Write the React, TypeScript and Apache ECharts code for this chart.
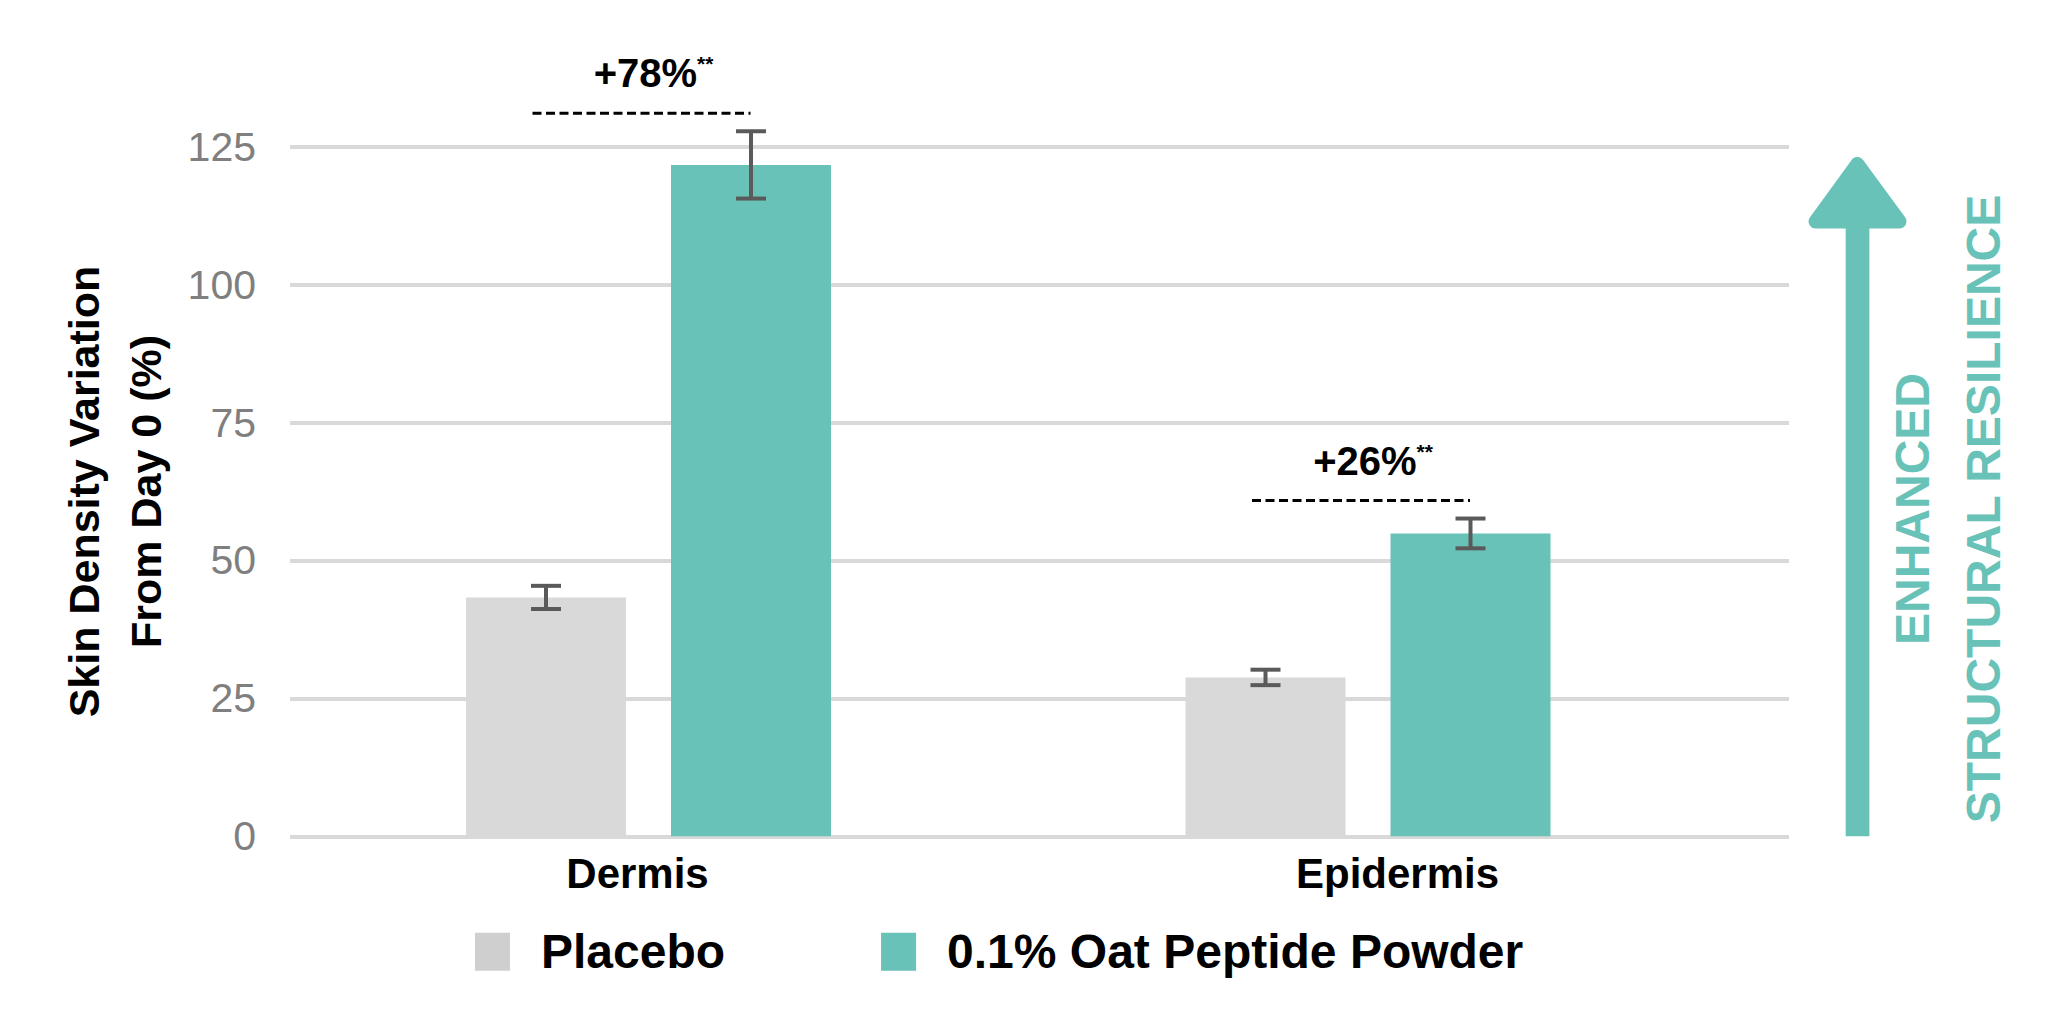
import React, { useEffect, useRef } from "react";
import * as echarts from "echarts";

const categories = ["Dermis", "Epidermis"];
const placeboValues = [43.3, 28.8];
const placeboErrors = [2.1, 1.4];
const oatValues = [121.7, 54.9];
const oatErrors = [6.1, 2.7];
const increaseLabels = ["+78%", "+26%"];
const significanceMarks = ["**", "**"];
const seriesNames = ["Placebo", "0.1% Oat Peptide Powder"];
const yMin = 0;
const yMax = 125;
const yInterval = 25;

const FONT = "Liberation Sans, Arial, Helvetica, sans-serif";
const TEAL = "#69C2B8";
const GRAY_BAR = "#D9D9D9";
const ERR_COLOR = "#5A5A5A";
const BAR_W = 160;
const BAR_GAP = 45;
const HALF = (BAR_W + BAR_GAP) / 2;

const GRID_TOP = 146.7;
const GRID_BOTTOM = 1024 - 836.3;

function errorRenderer(offset: number) {
  return (params: any, api: any) => {
    const c = api.value(0);
    const v = api.value(1);
    const e = api.value(2);
    const x = api.coord([c, v])[0] + offset;
    const yTop = api.coord([c, v + e])[1];
    const yBot = api.coord([c, v - e])[1];
    const style = { stroke: ERR_COLOR, lineWidth: 4 };
    return {
      type: "group",
      children: [
        { type: "line", shape: { x1: x, y1: yTop, x2: x, y2: yBot }, style },
        { type: "line", shape: { x1: x - 15, y1: yTop, x2: x + 15, y2: yTop }, style },
        { type: "line", shape: { x1: x - 15, y1: yBot, x2: x + 15, y2: yBot }, style },
      ],
    };
  };
}

export default function App() {
  const ref = useRef<HTMLDivElement>(null);

  useEffect(() => {
    if (!ref.current) return;
    const chart = echarts.init(ref.current, undefined, { renderer: "svg" });

    const placeboErr = categories.map((_, i) => [i, placeboValues[i], placeboErrors[i]]);
    const oatErr = categories.map((_, i) => [i, oatValues[i], oatErrors[i]]);
    const annot = categories.map((_, i) => [i, oatValues[i] + oatErrors[i]]);

    const option: any = {
      animation: false,
      backgroundColor: "#ffffff",
      textStyle: { fontFamily: FONT },
      grid: [
        { left: 290, right: 2048 - 1789, top: GRID_TOP, bottom: GRID_BOTTOM },
        { left: 288.75, width: 1439, top: GRID_TOP, bottom: GRID_BOTTOM },
        { left: 257.5, width: 1520, top: GRID_TOP, bottom: GRID_BOTTOM },
      ],
      xAxis: [
        {
          gridIndex: 0,
          type: "category",
          data: categories,
          axisLine: { show: false },
          axisTick: { show: false },
          axisLabel: { show: false },
        },
        {
          gridIndex: 1,
          type: "category",
          data: categories,
          axisLine: { show: false },
          axisTick: { show: false },
          axisLabel: { show: false },
        },
        {
          gridIndex: 2,
          type: "category",
          data: categories,
          axisLine: { show: false },
          axisTick: { show: false },
          axisLabel: {
            show: true,
            margin: 16,
            fontSize: 42,
            fontWeight: "bold",
            color: "#000000",
            fontFamily: FONT,
          },
        },
      ],
      yAxis: [
        {
          gridIndex: 0,
          type: "value",
          min: yMin,
          max: yMax,
          interval: yInterval,
          axisLine: { show: false },
          axisTick: { show: false },
          splitLine: { show: true, lineStyle: { color: "#D9D9D9", width: 3.8 } },
          axisLabel: {
            margin: 34,
            fontSize: 41,
            color: "#7F7F7F",
            fontFamily: FONT,
            padding: [0, 0, 16, 0],
          },
          name: "Skin Density Variation\nFrom Day 0 (%)",
          nameLocation: "middle",
          nameRotate: 90,
          nameGap: 108,
          nameTextStyle: {
            fontSize: 43,
            fontWeight: "bold",
            color: "#000000",
            lineHeight: 62,
            fontFamily: FONT,
          },
        },
        {
          gridIndex: 1,
          type: "value",
          min: yMin,
          max: yMax,
          interval: yInterval,
          show: false,
          splitLine: { show: false },
        },
        {
          gridIndex: 2,
          type: "value",
          min: yMin,
          max: yMax,
          interval: yInterval,
          show: false,
          splitLine: { show: false },
        },
      ],
      legend: {
        left: 475,
        top: 921.7,
        padding: 0,
        itemWidth: 35,
        itemHeight: 38,
        itemGap: 156,
        icon: "rect",
        data: [
          { name: seriesNames[0], itemStyle: { color: "#CFCFCF" } },
          { name: seriesNames[1], itemStyle: { color: TEAL } },
        ],
        textStyle: {
          fontSize: 48,
          fontWeight: "bold",
          color: "#000000",
          fontFamily: FONT,
          lineHeight: 48,
          padding: [0, 0, 12, 26],
        },
      },
      series: [
        {
          name: seriesNames[0],
          type: "bar",
          xAxisIndex: 1,
          yAxisIndex: 1,
          data: placeboValues,
          barWidth: BAR_W,
          barGap: (BAR_GAP / BAR_W) * 100 + "%",
          itemStyle: { color: GRAY_BAR },
        },
        {
          name: seriesNames[1],
          type: "bar",
          xAxisIndex: 1,
          yAxisIndex: 1,
          data: oatValues,
          barWidth: BAR_W,
          barGap: (BAR_GAP / BAR_W) * 100 + "%",
          itemStyle: { color: TEAL },
        },
        {
          type: "custom",
          xAxisIndex: 1,
          yAxisIndex: 1,
          data: placeboErr,
          encode: { x: 0, y: 1 },
          renderItem: errorRenderer(-HALF),
          z: 5,
          silent: true,
        },
        {
          type: "custom",
          xAxisIndex: 1,
          yAxisIndex: 1,
          data: oatErr,
          encode: { x: 0, y: 1 },
          renderItem: errorRenderer(HALF),
          z: 5,
          silent: true,
        },
        {
          type: "custom",
          xAxisIndex: 1,
          yAxisIndex: 1,
          data: annot,
          encode: { x: 0, y: 1 },
          clip: false,
          silent: true,
          z: 6,
          renderItem: (params: any, api: any) => {
            const c = api.value(0);
            const top = api.value(1);
            const p = api.coord([c, top]);
            const cx = p[0];
            const ly = p[1] - 18;
            const i = params.dataIndex;
            return {
              type: "group",
              children: [
                {
                  type: "line",
                  shape: { x1: cx - 116, y1: ly, x2: cx + 102, y2: ly },
                  style: { stroke: "#000000", lineWidth: 3, lineDash: [9, 4.5] },
                },
                {
                  type: "text",
                  x: cx + 5,
                  y: ly - 20,
                  style: {
                    text: "{m|" + increaseLabels[i] + "}{s|" + significanceMarks[i] + "}",
                    align: "center",
                    verticalAlign: "bottom",
                    rich: {
                      m: {
                        fontSize: 40,
                        fontWeight: "bold",
                        fontFamily: FONT,
                        fill: "#000000",
                        color: "#000000",
                        lineHeight: 40,
                      },
                      s: {
                        fontSize: 21,
                        fontWeight: "bold",
                        fontFamily: FONT,
                        fill: "#000000",
                        color: "#000000",
                        lineHeight: 21,
                        verticalAlign: "top",
                      },
                    },
                  },
                },
              ],
            };
          },
        },
      ],
      graphic: [
        {
          type: "rect",
          shape: { x: 1845.7, y: 222, width: 23.7, height: 836.3 - 222 },
          style: { fill: TEAL },
          silent: true,
        },
        {
          type: "polygon",
          shape: {
            points: [
              [1857.3, 164],
              [1815.5, 221.5],
              [1899.5, 221.5],
            ],
          },
          style: { fill: TEAL, stroke: TEAL, lineWidth: 14, lineJoin: "round" },
          silent: true,
        },
        {
          type: "text",
          x: 1948,
          y: 509,
          rotation: Math.PI / 2,
          style: {
            text: "ENHANCED\nSTRUCTURAL RESILIENCE",
            fill: TEAL,
            font: "bold 48px " + FONT,
            fontSize: 48,
            fontWeight: "bold",
            fontFamily: FONT,
            lineHeight: 71,
            align: "center",
            verticalAlign: "middle",
          },
          silent: true,
        },
      ],
    };

    chart.setOption(option);
    return () => chart.dispose();
  }, []);

  return (
    <div
      ref={ref}
      style={{ position: "absolute", left: 0, top: 0, width: 2048, height: 1024 }}
    />
  );
}
